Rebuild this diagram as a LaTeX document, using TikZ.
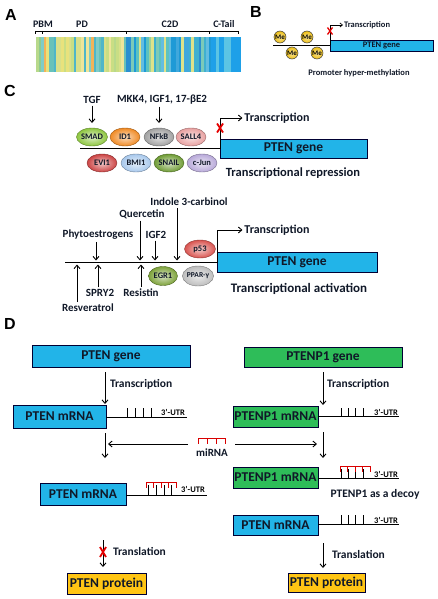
\documentclass[tikz,border=0pt]{standalone}
\usepackage{fontspec}
\setmainfont{Carlito}
\newfontfamily\panelfont{Liberation Sans}
\usetikzlibrary{shapes.geometric,arrows.meta}
\definecolor{geneblue}{HTML}{22B4E8}
\definecolor{genegreen}{HTML}{2EBD59}
\definecolor{protyellow}{HTML}{FFC514}
\definecolor{txtdark}{HTML}{101828}
\definecolor{meyellow}{HTML}{EDBE12}
\definecolor{cSMAD}{HTML}{8DC63F}
\definecolor{cID}{HTML}{F08A24}
\definecolor{cNF}{HTML}{A0A0A0}
\definecolor{cSALL}{HTML}{E8A0A0}
\definecolor{cEVI}{HTML}{CC4444}
\definecolor{cBMI}{HTML}{A8C8EC}
\definecolor{cSNAIL}{HTML}{6E9B34}
\definecolor{cJUN}{HTML}{B8A9D9}
\definecolor{cP}{HTML}{D9534F}
\definecolor{cEGR}{HTML}{7DA23A}
\definecolor{cPPAR}{HTML}{BDBDBD}
% stripe palettes
\definecolor{stripeA0}{HTML}{E8E27C}
\definecolor{stripeA1}{HTML}{D9E08A}
\definecolor{stripeA2}{HTML}{B8D98B}
\definecolor{stripeA3}{HTML}{8FCB8F}
\definecolor{stripeA4}{HTML}{68C2BA}
\definecolor{stripeA5}{HTML}{EFE59A}
\definecolor{stripeA6}{HTML}{7FCCC8}
\definecolor{stripeA7}{HTML}{F2B35A}
\definecolor{stripeA8}{HTML}{C9DE84}
\definecolor{stripeA9}{HTML}{4FB6C9}
\definecolor{stripeB0}{HTML}{1E9AD6}
\definecolor{stripeB1}{HTML}{3FB0D0}
\definecolor{stripeB2}{HTML}{5CC2C0}
\definecolor{stripeB3}{HTML}{9DD29A}
\definecolor{stripeB4}{HTML}{2A8FD0}
\definecolor{stripeB5}{HTML}{DDE28A}
\definecolor{stripeB6}{HTML}{63BDE0}
\definecolor{stripeB7}{HTML}{1E9AD6}
\definecolor{stripeB8}{HTML}{7CCAB8}
\definecolor{stripeB9}{HTML}{40A8DC}
\definecolor{stripeC0}{HTML}{1EA0E8}
\definecolor{stripeC1}{HTML}{1EA0E8}
\definecolor{stripeC2}{HTML}{22A6EA}
\definecolor{stripeC3}{HTML}{5BC4E4}
\definecolor{stripeC4}{HTML}{1E9CE4}
\definecolor{stripeC5}{HTML}{1EA0E8}
\definecolor{stripeC6}{HTML}{2FB3E0}
\definecolor{stripeC7}{HTML}{1EA0E8}
\definecolor{stripeC8}{HTML}{1A98E0}
\definecolor{stripeC9}{HTML}{1EA0E8}
\newcommand\fsz[1]{\fontsize{#1}{#1}\selectfont}
\newcommand\mycomb[4]{%
  \draw[mir] (#1,#2) -- ({#1+(#3-1)*#4},#2);
  \foreach \k in {1,...,#3}{\draw[mir] ({#1+(\k-1)*#4},#2) -- ++(0,6);}}
\begin{document}
\begin{tikzpicture}[x=1pt,y=-1pt,
  every node/.style={inner sep=0pt, outer sep=0pt},
  lab/.style={font=\bfseries\fsz{#1}, text=txtdark},
  panel/.style={font=\panelfont\bfseries\fsz{16}},
  arr/.style={line width=0.9pt, -{Straight Barb[length=3.5pt,width=6pt]}},
  arrs/.style={line width=0.7pt, -{Straight Barb[length=2.5pt,width=4pt]}},
  promoter/.style={line width=1.6pt},
  utr/.style={line width=0.9pt},
  mir/.style={draw=red!85!black, line width=0.9pt},
  redx/.style={draw=red!90!black, line width=1.8pt},
  box/.style={rectangle, draw=black!80!blue, line width=0.5pt, text=txtdark, font=\bfseries\fsz{13.5}},
  genebox/.style={box, fill=geneblue},
  greenbox/.style={box, fill=genegreen},
  protbox/.style={box, fill=protyellow},
  tf/.style={ellipse, draw=#1!65!black, line width=0.4pt, inner color=#1!30!white, outer color=#1,
             minimum width=30, minimum height=18, font=\bfseries\fsz{8.5}, text=txtdark},
  me/.style={circle, draw=black!75, line width=0.5pt, inner color=meyellow!40!white, outer color=meyellow,
             minimum size=12, font=\bfseries\fsz{7}}
]
\useasboundingbox (0,0) rectangle (437,599);

%% ---------------- Panel A ----------------
\node[panel] (lA) at (11,15) {A};
\node[lab=10] (pbm) at (43,24) {PBM};
\node[lab=10] (pd) at (82,24) {PD};
\node[lab=10] (c2d) at (170,24) {C2D};
\node[lab=10] (ctail) at (224,24) {C-Tail};
\draw[line width=0.5pt] (35,31) -- (238,31);
\foreach \t in {35,42,126,209,238} \draw[line width=0.5pt] (\t,31) -- (\t,34);
\pgfmathsetseed{12}
\foreach \i in {0,...,81}{
  \pgfmathsetmacro\xa{36+2.5*\i}
  \pgfmathrandominteger{\r}{0}{9}
  \ifdim\xa pt<126pt \def\reg{A}\else\ifdim\xa pt<209pt \def\reg{B}\else\def\reg{C}\fi\fi
  \edef\col{stripe\reg\r}
  \fill[fill=\col] (\xa,37) rectangle ++(2.6,35);
}

%% ---------------- Panel B ----------------
\node[panel] (lB) at (256,12) {B};
\node[genebox, font=\bfseries\fsz{8.5}, minimum width=103, minimum height=11] (bgene) at (381.5,45.5) {PTEN gene};
\coordinate (bL) at (273,45.5);
\draw[promoter, line width=1.2pt] (bL) -- (bgene.west);
\node[me] (me1) at (280,37) {Me};
\node[me] (me2) at (307,37) {Me};
\node[me] (me3) at (292,53) {Me};
\node[me] (me4) at (317,53) {Me};
\node[lab=8.5, anchor=west] (btx) at (344,25) {Transcription};
\draw[arrs] (bgene.west) |- ([xshift=-1pt]btx.west);
\coordinate (bx) at (330,31);
\draw[redx, line width=1.3pt] (bx) ++(-2.5,-3.5) -- ++(5,7) (bx) ++(-2.5,3.5) -- ++(5,-7);
\node[lab=8.5] (bprom) at (359,73) {Promoter hyper-methylation};

%% ---------------- Panel C (repression) ----------------
\node[panel] (lC) at (10,91) {C};
\node[lab=11] (tgf) at (92,100) {TGF};
\node[lab=11] (mkk) at (162,100) {MKK4, IGF1, 17-βE2};
\node[genebox, minimum width=147, minimum height=19] (cgene) at (293.5,148.5) {PTEN gene};
\coordinate (cL) at (80,148.5);
\draw[promoter] (cL) -- (cgene.west);
\node[tf=cSMAD] (smad) at (92,137) {SMAD};
\node[tf=cID] (id1) at (125,137) {ID1};
\node[tf=cNF] (nfkb) at (159,137) {NFkB};
\node[tf=cSALL] (sall4) at (191,137) {SALL4};
\node[tf=cEVI] (evi1) at (102,163) {EVI1};
\node[tf=cBMI] (bmi1) at (136,163) {BMI1};
\node[tf=cSNAIL] (snail) at (169,163) {SNAIL};
\node[tf=cJUN] (cjun) at (202,163) {c-Jun};
\draw[arr] ([yshift=-2pt]tgf.south) -- ([yshift=5pt]smad.north);
\draw[arr] ([yshift=-2pt]mkk.south -| nfkb) -- ([yshift=5pt]nfkb.north);
\node[lab=12] (ctx) at (277,118) {Transcription};
\draw[arr] (cgene.west) |- ([xshift=-2pt]ctx.west);
\coordinate (cx) at (220,128);
\draw[redx] (cx) ++(-3,-4.5) -- ++(6,9) (cx) ++(-3,4.5) -- ++(6,-9);
\node[lab=12.5] (crep) at (293,173) {Transcriptional repression};

%% ---------------- Panel C (activation) ----------------
\node[genebox, minimum width=160, minimum height=20] (agene) at (297,262.5) {PTEN gene};
\coordinate (aL) at (65,262.5);
\draw[promoter] (aL) -- (agene.west);
\node[tf=cP, minimum width=31] (p53) at (200,249) {p53};
\node[tf=cEGR, minimum width=29, minimum height=19] (egr1) at (163,276) {EGR1};
\node[tf=cPPAR, minimum width=31, minimum height=20, font=\bfseries\fsz{7.5}] (ppar) at (198,276) {PPAR-γ};
\node[lab=12] (atx) at (277,230) {Transcription};
\draw[arr] (agene.west) |- ([xshift=-2pt]atx.west);
\node[lab=11] (indole) at (189,202) {Indole 3-carbinol};
\node[lab=11] (querc) at (142,214) {Quercetin};
\node[lab=11] (phyto) at (98,235) {Phytoestrogens};
\node[lab=11] (igf2) at (156,235) {IGF2};
\node[lab=11] (spry) at (100,293) {SPRY2};
\node[lab=11] (resist) at (141,293) {Resistin};
\node[lab=11] (resv) at (88,308) {Resveratrol};
\coordinate (pPhy) at (96,262.5);
\coordinate (pQue) at (140,262.5);
\coordinate (pIgf) at (155,262.5);
\coordinate (pInd) at (177,262.5);
\coordinate (pRes) at (77,262.5);
\coordinate (pSpr) at (98,262.5);
\coordinate (pRst) at (141,262.5);
\draw[arr] ([yshift=-2pt]phyto.south -| pPhy) -- ([yshift=2pt]pPhy);
\draw[arr] ([yshift=-2pt]querc.south -| pQue) -- ([yshift=2pt]pQue);
\draw[arr] ([yshift=-2pt]igf2.south -| pIgf) -- ([yshift=2pt]pIgf);
\draw[arr] ([yshift=-2pt]indole.south -| pInd) -- ([yshift=2pt]pInd);
\draw[arr] ([yshift=2pt]resv.north -| pRes) -- ([yshift=-2pt]pRes);
\draw[arr] ([yshift=2pt]spry.north -| pSpr) -- ([yshift=-2pt]pSpr);
\draw[arr] ([yshift=2pt]resist.north -| pRst) -- ([yshift=-2pt]pRst);
\node[lab=13] (aact) at (299,289) {Transcriptional activation};

%% ---------------- Panel D ----------------
\node[panel] (lD) at (10,324) {D};
% left column
\node[genebox, minimum width=158, minimum height=22] (dgene) at (111,356) {PTEN gene};
\node[genebox, minimum width=93, minimum height=23] (dm1) at (59.5,416.5) {PTEN mRNA};
\coordinate (dm1e) at (187,417);
\draw[utr] (dm1.east |- dm1e) -- (dm1e);
\foreach \t in {127,135,143,151} \draw[utr] (\t,417) -- ++(0,-9);
\node[font=\bfseries\fsz{8.5}] (u1) at (173,412) {3'-UTR};
\coordinate (dL1) at (105,356);
\coordinate (dL2) at (105,433);
\coordinate (dL3) at (105,458);
\node[lab=11.5, anchor=west] (dtx1) at (110,384) {Transcription};
\draw[arr] (dgene.south -| dL1) ++(0,5) -- ([yshift=1pt]dm1.north -| dL1);
\draw[arr] (dL2) -- (dL3);
\node[genebox, minimum width=86, minimum height=22] (dm2) at (83,494) {PTEN mRNA};
\coordinate (dm2e) at (207,495);
\draw[utr] (dm2.east |- dm2e) -- (dm2e);
\foreach \t in {148,156,164,171} \draw[utr] (\t,495) -- ++(0,-10);
\mycomb{146}{482}{5}{7.5}
\node[font=\bfseries\fsz{8.5}] (u2) at (193,489) {3'-UTR};
\node[protbox, minimum width=79, minimum height=21] (dp1) at (106.5,583.5) {PTEN protein};
\coordinate (dT1) at (103,540);
\draw[arr] (dT1) -- ([yshift=6pt]dp1.north -| dT1);
\coordinate (dx) at (103,552);
\draw[redx] (dx) ++(-3,-5) -- ++(6,10) (dx) ++(-3,5) -- ++(6,-10);
\node[lab=11.5, anchor=west] (dtr1) at (113,551) {Translation};

% miRNA
\node[lab=11] (mirna) at (212,453) {miRNA};
\mycomb{198}{438}{4}{9}
\coordinate (mL) at (188,444);
\coordinate (mR) at (235,444);
\coordinate (mLe) at (108,444);
\coordinate (mRe) at (317,444);
\draw[arr] (mL) -- (mLe);
\draw[arr] (mR) -- (mRe);

% right column
\node[greenbox, minimum width=158, minimum height=20] (pgene) at (323,357) {PTENP1 gene};
\node[greenbox, minimum width=85, minimum height=21] (pm1) at (275.5,416.5) {PTENP1 mRNA};
\coordinate (pm1e) at (399,416.5);
\draw[utr] (pm1.east |- pm1e) -- (pm1e);
\foreach \t in {341,348,355,363} \draw[utr] (\t,416.5) -- ++(0,-9);
\node[font=\bfseries\fsz{8.5}] (u3) at (386,412) {3'-UTR};
\node[lab=11.5, anchor=west] (ptx1) at (327,384) {Transcription};
\coordinate (pR1) at (323,357);
\coordinate (pR2) at (323,432);
\coordinate (pR3) at (323,458);
\draw[arr] (pgene.south) ++(0,5) -- ([yshift=1pt]pm1.north -| pR1);
\draw[arr] (pR2) -- (pR3);
\node[greenbox, minimum width=85, minimum height=21] (pm2) at (275.5,477.5) {PTENP1 mRNA};
\coordinate (pm2e) at (399,478);
\draw[utr] (pm2.east |- pm2e) -- (pm2e);
\foreach \t in {341,348,355,363} \draw[utr] (\t,478) -- ++(0,-9);
\mycomb{340}{466}{5}{7.5}
\node[font=\bfseries\fsz{8.5}] (u4) at (386,474) {3'-UTR};
\node[lab=11.5] (decoy) at (375,494) {PTENP1 as a decoy};
\node[genebox, minimum width=85, minimum height=20] (pm3) at (275.5,525) {PTEN mRNA};
\coordinate (pm3e) at (399,524);
\draw[utr] (pm3.east |- pm3e) -- (pm3e);
\foreach \t in {341,348,355,363} \draw[utr] (\t,524) -- ++(0,-9);
\node[font=\bfseries\fsz{8.5}] (u5) at (386,520) {3'-UTR};
\node[protbox, minimum width=77, minimum height=19] (pp) at (326.5,582.5) {PTEN protein};
\coordinate (pT) at (323,543);
\draw[arr] (pT) -- ([yshift=5pt]pp.north -| pT);
\node[lab=11.5, anchor=west] (ptr) at (332,554) {Translation};
\end{tikzpicture}
\end{document}
